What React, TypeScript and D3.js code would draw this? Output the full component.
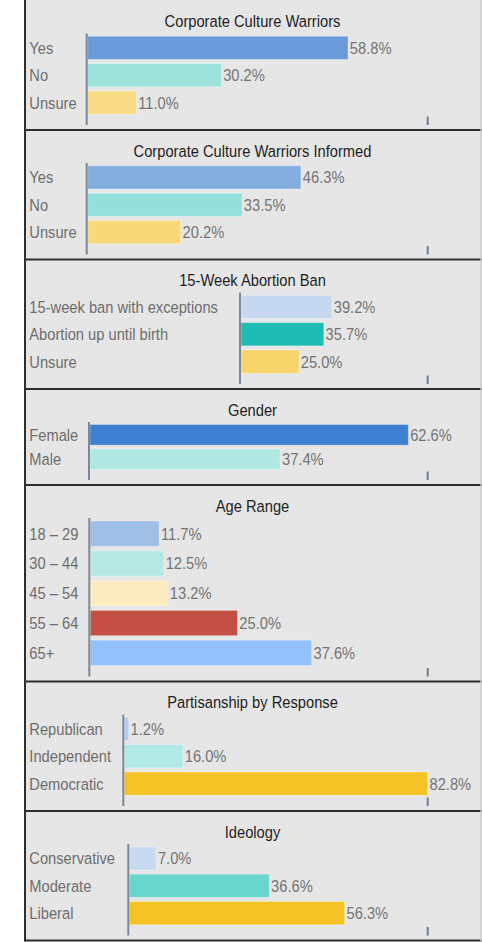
import * as d3 from "d3";

// panel titles, categories and percentages
const titles = [
  "Corporate Culture Warriors",
  "Corporate Culture Warriors Informed",
  "15-Week Abortion Ban",
  "Gender",
  "Age Range",
  "Partisanship by Response",
  "Ideology",
];

const categories = [
  ["Yes", "No", "Unsure"],
  ["Yes", "No", "Unsure"],
  ["15-week ban with exceptions", "Abortion up until birth", "Unsure"],
  ["Female", "Male"],
  ["18 – 29", "30 – 44", "45 – 54", "55 – 64", "65+"],
  ["Republican", "Independent", "Democratic"],
  ["Conservative", "Moderate", "Liberal"],
];

const values = [
  [58.8, 30.2, 11.0],
  [46.3, 33.5, 20.2],
  [39.2, 35.7, 25.0],
  [62.6, 37.4],
  [11.7, 12.5, 13.2, 25.0, 37.6],
  [1.2, 16.0, 82.8],
  [7.0, 36.6, 56.3],
];

// x domain end of each panel (where the lone tick sits)
const axisMax = [76.8, 73.8, 80.5, 66.4, 57.3, 82.8, 78];

const colors = [
  ["#6a9bd8", "#9de3dc", "#f7dc85"],
  ["#85aee0", "#92e0d9", "#f8d97a"],
  ["#c5d8f0", "#1fbcb2", "#f7d46a"],
  ["#3f7fcf", "#b0e8e4"],
  ["#9fbfe6", "#b5e8e3", "#fbebbf", "#c45045", "#92c1fb"],
  ["#aecbf0", "#b0e9e5", "#f4c427"],
  ["#c8daf2", "#6ad5cd", "#f4c427"],
];

// layout
const W = 482;
const H = 942;
const left = 24;
const right = 481;
const tickX = 427.7;
const plotLeft = [86.7, 86.7, 240, 89, 89.3, 123.3, 128.3];
const fs = 17;
const sx = 0.865;
const fontFamily = "'Liberation Sans', Arial, sans-serif";

function panelHeight(n: number) {
  return 29 + 33.5 * n;
}

export default function App() {
  let top = 0.5;
  const panels = titles.map((title, i) => {
    const h = panelHeight(categories[i].length);
    const y0 = top;
    top += h;
    return { title, i, y0, h };
  });

  return (
    <svg
      width={W}
      height={H}
      style={{ position: "absolute", left: 0, top: 0, background: "#fff" }}
      fontFamily={fontFamily}
    >
      <rect x={left} y={0} width={right - left} height={940.5} fill="#e6e6e6" />
      {panels.map(({ title, i, y0, h }) => {
        const axisTop = y0 + 33;
        const axisBottom = y0 + h - 5;
        const y = d3
          .scaleBand()
          .domain(categories[i])
          .range([axisTop, axisBottom - 8])
          .paddingInner(0.15)
          .paddingOuter(0.1);
        const x = d3.scaleLinear().domain([0, axisMax[i]]).range([plotLeft[i] + 1, tickX]);
        return (
          <g key={i}>
            <text
              transform={`translate(${(left + right) / 2},${y0 + 26.5}) scale(${sx},1)`}
              textAnchor="middle"
              fontSize={fs}
              fill="#1e1e1e"
            >
              {title}
            </text>
            {categories[i].map((c, j) => {
              const by = y(c)!;
              const bw = y.bandwidth();
              const v = values[i][j];
              return (
                <g key={c}>
                  <text
                    transform={`translate(29.3,${by + bw / 2 + 6}) scale(${sx},1)`}
                    fontSize={fs}
                    fill="#6e6e6e"
                  >
                    {c}
                  </text>
                  <rect
                    x={x(0)}
                    y={by}
                    width={x(v) - x(0)}
                    height={bw}
                    fill={colors[i][j]}
                    stroke="#ffffff"
                    strokeOpacity={0.35}
                    strokeWidth={1}
                  />
                  <text
                    transform={`translate(${x(v) + 1.8},${by + bw / 2 + 6}) scale(${sx},1)`}
                    fontSize={fs}
                    fill="#747474"
                  >
                    {d3.format(".1f")(v) + "%"}
                  </text>
                </g>
              );
            })}
            <line
              x1={plotLeft[i]}
              x2={plotLeft[i]}
              y1={axisTop}
              y2={axisBottom}
              stroke="#7b8896"
              strokeWidth={2}
            />
            <line
              x1={x(axisMax[i])}
              x2={x(axisMax[i])}
              y1={axisBottom - 8.5}
              y2={axisBottom}
              stroke="#6d7d94"
              strokeWidth={2}
            />
            {i > 0 && (
              <line x1={left} x2={W} y1={y0} y2={y0} stroke="#2f2f2f" strokeWidth={2} />
            )}
          </g>
        );
      })}
      <line x1={left} x2={W} y1={940.5} y2={940.5} stroke="#2f2f2f" strokeWidth={2} />
      <line x1={left + 1} x2={left + 1} y1={0} y2={941.5} stroke="#2f2f2f" strokeWidth={2} />
      <line x1={right} x2={right} y1={0} y2={941.5} stroke="#c8c8c8" strokeWidth={1.5} />
    </svg>
  );
}
